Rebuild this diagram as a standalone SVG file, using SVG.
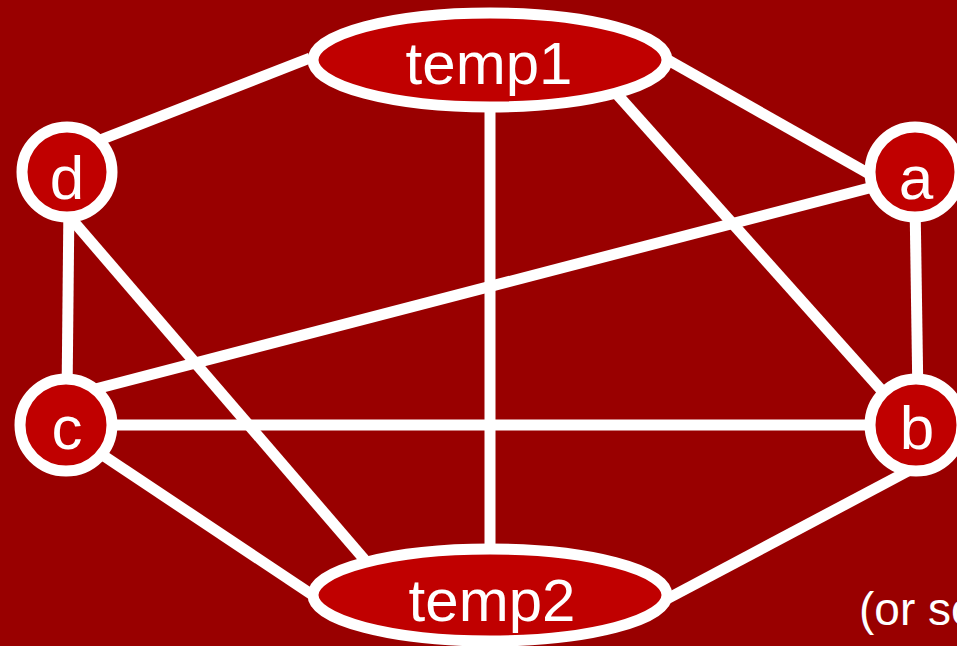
<svg xmlns="http://www.w3.org/2000/svg" width="957" height="646" viewBox="0 0 957 646">
<style>
.edge{stroke:#FFFFFF;stroke-width:11;fill:none;stroke-linecap:butt}
.node{fill:#C00000;stroke:#FFFFFF;stroke-width:11}
.lbl{font-family:"Liberation Sans",Arial,sans-serif;fill:#FFFFFF;text-anchor:middle}
</style>
<rect x="0" y="0" width="957" height="646" fill="#990000"/>
<g id="connectors">
<line class="edge" x1="310" y1="58" x2="95" y2="142"/>
<line class="edge" x1="668" y1="60" x2="880" y2="180"/>
<line class="edge" x1="615" y1="92" x2="892" y2="402"/>
<line class="edge" x1="490" y1="100" x2="490" y2="560"/>
<line class="edge" x1="69" y1="200" x2="67" y2="400"/>
<line class="edge" x1="68" y1="215" x2="370" y2="566"/>
<line class="edge" x1="900" y1="180" x2="80" y2="393"/>
<line class="edge" x1="915" y1="200" x2="918" y2="400"/>
<line class="edge" x1="90" y1="425" x2="890" y2="425"/>
<line class="edge" x1="80" y1="440" x2="320" y2="600"/>
<line class="edge" x1="910" y1="470" x2="665" y2="600"/>
</g>
<g id="temp1">
<ellipse class="node" cx="490" cy="60" rx="177" ry="47"/>
<text class="lbl" x="489" y="84" font-size="60">temp1</text>
</g>
<g id="temp2">
<ellipse class="node" cx="490" cy="595" rx="177" ry="46"/>
<text class="lbl" x="492" y="621" font-size="60">temp2</text>
</g>
<g id="d">
<circle class="node" cx="67" cy="172" r="45"/>
<text class="lbl" x="67" y="199" font-size="62">d</text>
</g>
<g id="a">
<circle class="node" cx="915" cy="172" r="45"/>
<text class="lbl" x="916" y="199" font-size="62">a</text>
</g>
<g id="c">
<circle class="node" cx="66" cy="425" r="46"/>
<text class="lbl" x="67" y="449" font-size="62">c</text>
</g>
<g id="b">
<circle class="node" cx="916" cy="425" r="46"/>
<text class="lbl" x="917" y="449" font-size="62">b</text>
</g>
<text x="859" y="625" font-size="46" font-family="Liberation Sans, Arial, sans-serif" fill="#FFFFFF">(or so)</text>
</svg>
